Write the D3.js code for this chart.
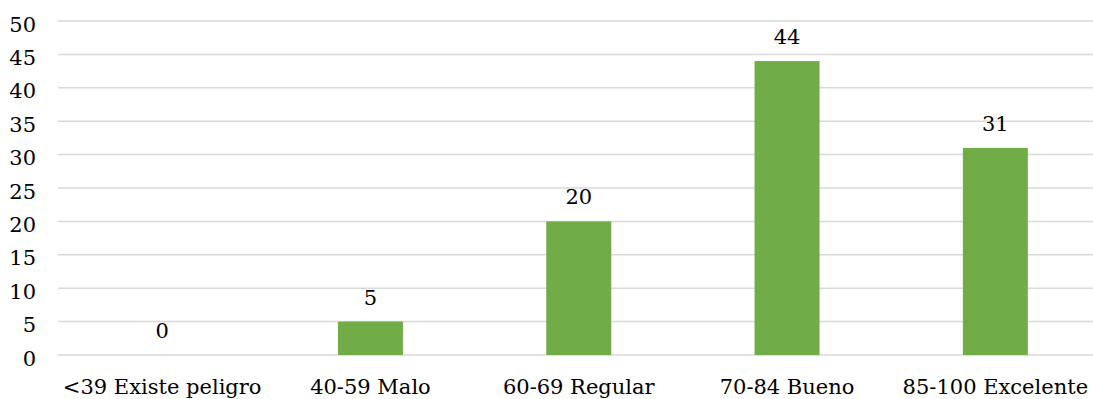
<!DOCTYPE html>
<html>
<head>
<meta charset="utf-8">
<script src="https://cdn.jsdelivr.net/npm/d3@7"></script>
<style>
  html, body { margin: 0; padding: 0; background: #fff; }
  svg { display: block; }
  text { font-family: "DejaVu Serif", "Liberation Serif", serif; fill: #000; }
</style>
</head>
<body>
<svg id="chart" width="1093" height="399"></svg>
<script>
// Score ranges and number of respondents in each
const categories = ["<39 Existe peligro", "40-59 Malo", "60-69 Regular", "70-84 Bueno", "85-100 Excelente"];
const counts = [0, 5, 20, 44, 31];
const yTicks = [0, 5, 10, 15, 20, 25, 30, 35, 40, 45, 50];

const fontSize = 21;
const svg = d3.select("#chart");
const margin = { left: 58, top: 21, bottom: 44 };
const plotW = 1041.5;
const plotH = 399 - margin.top - margin.bottom;

const x = d3.scaleBand().domain(categories).range([margin.left, margin.left + plotW]).paddingInner(0.688).paddingOuter(0.344);
const y = d3.scaleLinear().domain([0, 50]).range([margin.top + plotH, margin.top]);

// Horizontal gridlines
svg.append("g")
  .selectAll("line")
  .data(yTicks)
  .join("line")
  .attr("x1", margin.left)
  .attr("x2", margin.left + plotW)
  .attr("y1", d => y(d))
  .attr("y2", d => y(d))
  .attr("stroke", "#d9d9d9")
  .attr("stroke-width", 1.5);

// Y axis labels
const yAxis = d3.axisLeft(y).tickValues(yTicks).tickSize(0).tickPadding(0);
const yG = svg.append("g").attr("transform", `translate(${margin.left - 22},0)`).call(yAxis);
yG.select(".domain").remove();
yG.selectAll("text")
  .attr("font-size", fontSize)
  .attr("font-family", "DejaVu Serif, serif")
  .attr("dy", "0.48em")
  .attr("fill", "#000");

// X axis labels
const xAxis = d3.axisBottom(x).tickSize(0).tickPadding(0);
const xG = svg.append("g").attr("transform", `translate(0,${margin.top + plotH})`).call(xAxis);
xG.select(".domain").remove();
xG.selectAll("text")
  .attr("font-size", fontSize)
  .attr("font-family", "DejaVu Serif, serif")
  .attr("y", 39)
  .attr("dy", 0)
  .attr("fill", "#000");

// Bars
svg.append("g")
  .selectAll("rect")
  .data(counts)
  .join("rect")
  .attr("x", (d, i) => x(categories[i]))
  .attr("width", x.bandwidth())
  .attr("y", d => y(d))
  .attr("height", d => y(0) - y(d))
  .attr("fill", "#70ad47");

// Value labels above the bars
svg.append("g")
  .selectAll("text")
  .data(counts)
  .join("text")
  .attr("x", (d, i) => x(categories[i]) + x.bandwidth() / 2)
  .attr("y", d => y(d) - 17)
  .attr("text-anchor", "middle")
  .attr("font-size", fontSize)
  .text(d => d);
</script>
</body>
</html>
